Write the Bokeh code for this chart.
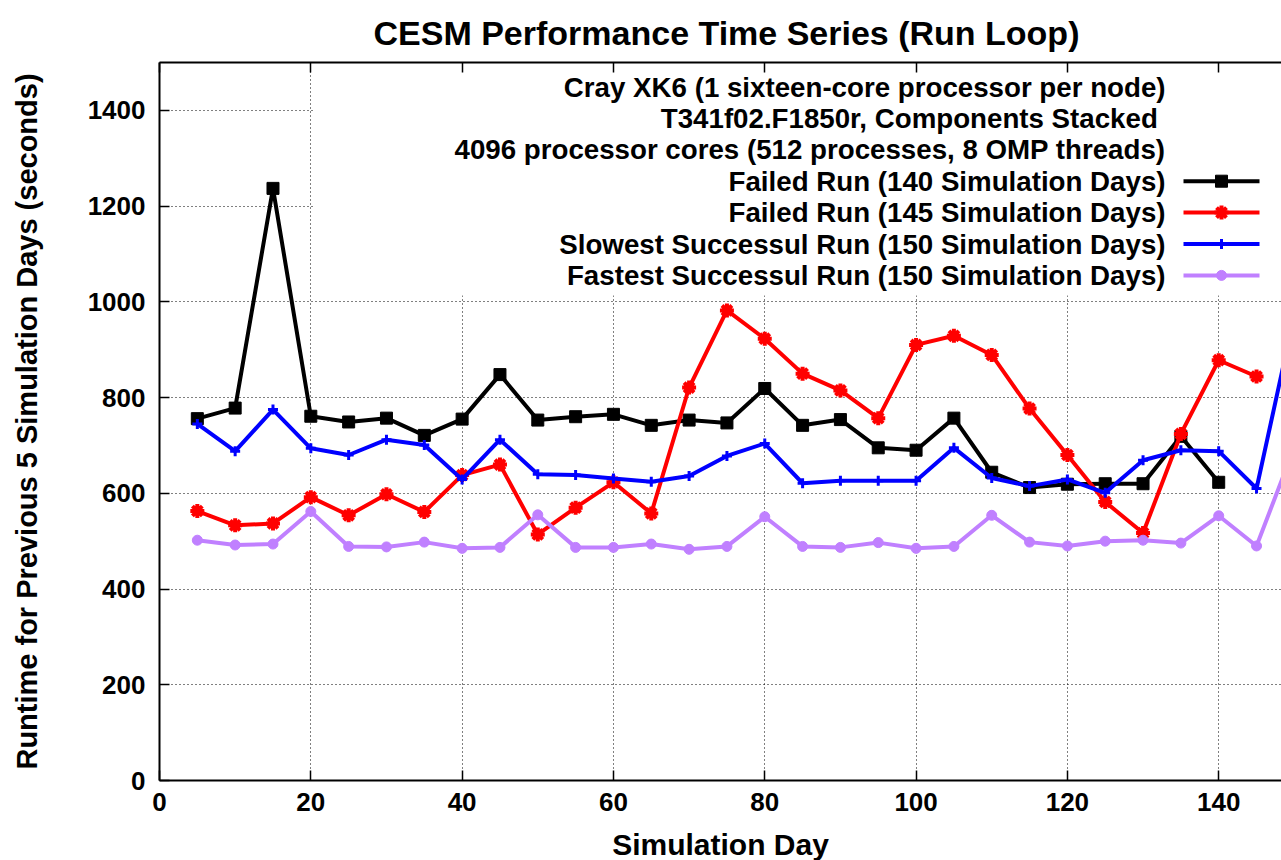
from bokeh.plotting import figure
from bokeh.models import Range1d, LinearAxis, SingleIntervalTicker, BoxAnnotation
from bokeh.core.properties import value
from bokeh.embed import file_html
from bokeh.resources import INLINE

# ---------------- data ----------------
days_140 = list(range(5, 141, 5))
days_145 = list(range(5, 146, 5))
days_150 = list(range(5, 151, 5))

failed_140 = [756, 778, 1237, 761, 749, 757, 721, 755, 848, 753,
              760, 765, 742, 753, 747, 819, 742, 754, 695, 690,
              757, 644, 612, 619, 620, 620, 719, 623]
failed_145 = [563, 533, 537, 592, 554, 598, 561, 638, 660, 514,
              570, 623, 558, 821, 982, 923, 850, 815, 757, 910,
              929, 889, 777, 680, 582, 517, 724, 878, 844]
slowest_150 = [745, 688, 775, 694, 680, 712, 701, 629, 712, 640,
               638, 631, 624, 636, 678, 704, 621, 626, 626, 626,
               695, 632, 615, 629, 601, 669, 690, 688, 610, 972]
fastest_150 = [502, 492, 494, 562, 489, 488, 498, 485, 487, 555,
               487, 487, 494, 483, 489, 551, 489, 487, 497, 485,
               489, 554, 498, 490, 500, 502, 496, 553, 490, 696]

title_text = "CESM Performance Time Series (Run Loop)"
header_lines = ["Cray XK6 (1 sixteen-core processor per node)",
                "T341f02.F1850r, Components Stacked ",
                "4096 processor cores (512 processes, 8 OMP threads)"]
series_names = ["Failed Run (140 Simulation Days)",
                "Failed Run (145 Simulation Days)",
                "Slowest Successul Run (150 Simulation Days)",
                "Fastest Successul Run (150 Simulation Days)"]

x_ticks_interval = 20
y_ticks_interval = 200

# ---------------- layout constants ----------------
FONT = "Liberation Sans"
X_END = 148.3
Y_END = 1500
FRAME_L, FRAME_T, FRAME_W, FRAME_H = 159, 62, 1122, 718


def px_x(px):
    return (px - FRAME_L) / FRAME_W * X_END


def px_y(py):
    return (FRAME_T + FRAME_H - py) / FRAME_H * Y_END


p = figure(frame_width=FRAME_W, frame_height=FRAME_H,
           x_range=Range1d(0, X_END), y_range=Range1d(0, Y_END),
           output_backend="svg", toolbar_location=None,
           min_border_left=FRAME_L, min_border_right=0,
           min_border_top=FRAME_T, min_border_bottom=80,
           title=title_text,
           x_axis_label="Simulation Day",
           y_axis_label="Runtime for Previous 5 Simulation Days (seconds)")
p.outline_line_color = None
p.background_fill_color = "white"
p.border_fill_color = "white"

p.title.text_font = FONT
p.title.text_font_size = "34px"
p.title.text_font_style = "bold"
p.title.text_color = "black"
p.title.align = "left"
p.title.offset = 214
p.title.standoff = 21

xt = SingleIntervalTicker(interval=x_ticks_interval)
yt = SingleIntervalTicker(interval=y_ticks_interval)

for ax, t in ((p.xaxis[0], xt), (p.yaxis[0], yt)):
    ax.ticker = t
    ax.axis_line_width = 2
    ax.axis_line_color = "black"
    ax.major_tick_in = 10
    ax.major_tick_out = 0
    ax.major_tick_line_width = 1.5
    ax.minor_tick_in = 0
    ax.minor_tick_out = 0
    ax.major_label_text_font = FONT
    ax.major_label_text_font_size = "26px"
    ax.major_label_text_font_style = "bold"
    ax.major_label_text_color = "black"
    ax.axis_label_text_font = FONT
    ax.axis_label_text_font_style = "bold"
    ax.axis_label_text_color = "black"

p.xaxis[0].major_label_standoff = 12
p.xaxis[0].axis_label_standoff = 14
p.xaxis[0].axis_label_text_font_size = "30px"
p.yaxis[0].major_label_standoff = 14
p.yaxis[0].axis_label_standoff = 42
p.yaxis[0].axis_label_text_font_size = "29px"

top_axis = LinearAxis(ticker=SingleIntervalTicker(interval=x_ticks_interval),
                      axis_line_width=2, axis_line_color="black",
                      major_tick_in=10, major_tick_out=0, major_tick_line_width=1.5,
                      minor_tick_in=0, minor_tick_out=0,
                      major_label_text_font_size="1px", major_label_text_alpha=0,
                      major_label_standoff=0)
p.add_layout(top_axis, "above")

for g, t in ((p.xgrid[0], xt), (p.ygrid[0], yt)):
    g.ticker = t
    g.grid_line_color = "black"
    g.grid_line_alpha = 1.0
    g.grid_line_width = 1
    g.grid_line_dash = "1 3"

# opaque key area hides the grid behind it
key_box = BoxAnnotation(left=px_x(313), bottom=px_y(295),
                        fill_color="white", fill_alpha=1.0,
                        line_color=None, level="underlay")
p.add_layout(key_box)

colors = ["black", "#ff0000", "#0000ff", "#c080ff"]
markers = ["square", "asterisk", "cross", "circle"]
sizes = [12, 14, 10, 10]
mlw = [1, 4, 3, 1]
xs = [days_140, days_145, days_150, days_150]
ys = [failed_140, failed_145, slowest_150, fastest_150]

for x, y, c, m, s, lw in zip(xs, ys, colors, markers, sizes, mlw):
    p.line(x, y, line_color=c, line_width=4)
    p.scatter(x, y, marker=m, size=s, line_color=c, fill_color=c, line_width=lw)

# ---------------- key ----------------
row0 = 86.5
row_h = 31.4
text_right = 1165
all_lines = header_lines + series_names
p.text(x=[px_x(text_right)] * len(all_lines),
       y=[px_y(row0 + i * row_h) for i in range(len(all_lines))],
       text=all_lines, text_align="right", text_baseline="middle",
       text_font=value(FONT), text_font_size="27.7px", text_font_style="bold",
       text_color="black")

for i, (c, m, s, lw) in enumerate(zip(colors, markers, sizes, mlw)):
    yy = px_y(row0 + (i + 3) * row_h)
    p.segment(x0=[px_x(1183)], y0=[yy], x1=[px_x(1259)], y1=[yy],
              line_color=c, line_width=4)
    p.scatter([px_x(1221)], [yy], marker=m, size=s, line_color=c,
              fill_color=c, line_width=lw)

open("out.html", "w").write(file_html(p, INLINE))
